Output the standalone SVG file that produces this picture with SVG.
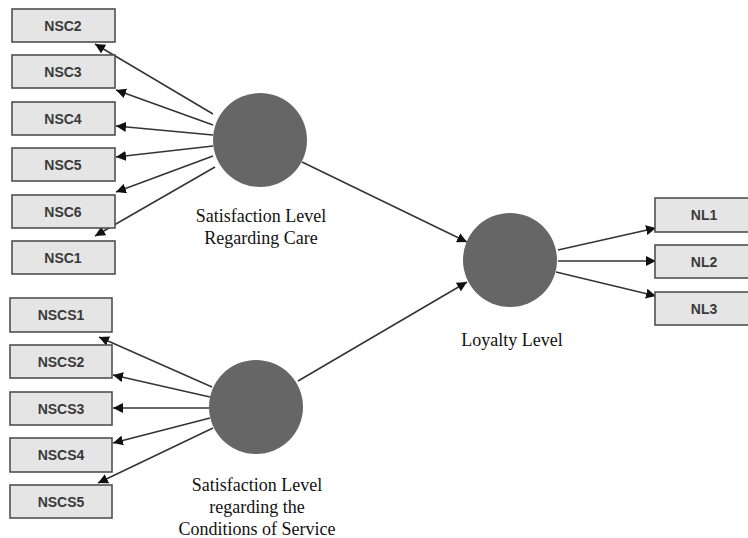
<svg xmlns="http://www.w3.org/2000/svg" width="748" height="538" viewBox="0 0 748 538">
<defs>
<marker id="arr" viewBox="0 0 10 10" refX="10" refY="5" markerWidth="10" markerHeight="10" markerUnits="userSpaceOnUse" orient="auto">
<path d="M0,0 L10,5 L0,10 z" fill="#111"/>
</marker>
<style>
.box{fill:#e5e5e5;stroke:#505050;stroke-width:1.6}
.bt{font-family:"Liberation Sans",Arial,sans-serif;font-weight:bold;font-size:14px;fill:#3a3a3a;text-anchor:middle}
.lv{fill:#666666}
.lt{font-family:"Liberation Serif","Times New Roman",serif;font-size:18px;fill:#111;text-anchor:middle}
.c line{stroke:#333;stroke-width:1.5;marker-end:url(#arr)}
</style>
</defs>
<rect width="748" height="538" fill="#ffffff"/>
<g class="c" id="connectors">
<line x1="213" y1="114" x2="95" y2="44"/>
<line x1="213" y1="125" x2="116" y2="90"/>
<line x1="213" y1="135" x2="116" y2="126"/>
<line x1="213" y1="146" x2="116" y2="157"/>
<line x1="213" y1="156" x2="116" y2="192"/>
<line x1="215" y1="167" x2="95" y2="236"/>
<line x1="212" y1="387" x2="99" y2="337"/>
<line x1="210" y1="397" x2="113" y2="375"/>
<line x1="209" y1="408" x2="113" y2="408"/>
<line x1="210" y1="418" x2="113" y2="443"/>
<line x1="213" y1="428" x2="98" y2="483"/>
<line x1="302" y1="162" x2="467" y2="242"/>
<line x1="298" y1="381" x2="467" y2="282"/>
<line x1="558" y1="250" x2="656" y2="228"/>
<line x1="558" y1="261" x2="656" y2="261"/>
<line x1="556" y1="272" x2="656" y2="296"/>
</g>
<g id="nsc2"><rect class="box" x="12" y="9" width="103" height="33"/><text class="bt" x="63" y="31">NSC2</text></g>
<g id="nsc3"><rect class="box" x="12" y="55" width="103" height="33"/><text class="bt" x="63" y="77">NSC3</text></g>
<g id="nsc4"><rect class="box" x="12" y="102" width="103" height="33"/><text class="bt" x="63" y="124">NSC4</text></g>
<g id="nsc5"><rect class="box" x="12" y="148" width="103" height="33"/><text class="bt" x="63" y="170">NSC5</text></g>
<g id="nsc6"><rect class="box" x="12" y="195" width="103" height="33"/><text class="bt" x="63" y="217">NSC6</text></g>
<g id="nsc1"><rect class="box" x="12" y="241" width="103" height="33"/><text class="bt" x="63" y="263">NSC1</text></g>
<g id="nscs1"><rect class="box" x="10" y="298" width="102" height="34"/><text class="bt" x="61" y="320">NSCS1</text></g>
<g id="nscs2"><rect class="box" x="10" y="345" width="102" height="33"/><text class="bt" x="61" y="367">NSCS2</text></g>
<g id="nscs3"><rect class="box" x="10" y="392" width="102" height="33"/><text class="bt" x="61" y="414">NSCS3</text></g>
<g id="nscs4"><rect class="box" x="10" y="438" width="102" height="34"/><text class="bt" x="61" y="460">NSCS4</text></g>
<g id="nscs5"><rect class="box" x="10" y="485" width="102" height="33"/><text class="bt" x="61" y="507">NSCS5</text></g>
<g id="nl1"><rect class="box" x="655" y="198" width="98" height="34"/><text class="bt" x="704" y="220">NL1</text></g>
<g id="nl2"><rect class="box" x="655" y="245" width="98" height="33"/><text class="bt" x="704" y="267">NL2</text></g>
<g id="nl3"><rect class="box" x="655" y="292" width="98" height="33"/><text class="bt" x="704" y="314">NL3</text></g>
<g id="care"><circle class="lv" cx="260" cy="140" r="47"/><text class="lt" x="261" y="222">Satisfaction Level</text><text class="lt" x="261" y="244">Regarding Care</text></g>
<g id="conditions"><circle class="lv" cx="256" cy="407" r="47"/><text class="lt" x="257" y="491">Satisfaction Level</text><text class="lt" x="257" y="513">regarding the</text><text class="lt" x="257" y="535">Conditions of Service</text></g>
<g id="loyalty"><circle class="lv" cx="510" cy="260" r="47"/><text class="lt" x="512" y="346">Loyalty Level</text></g>
</svg>
